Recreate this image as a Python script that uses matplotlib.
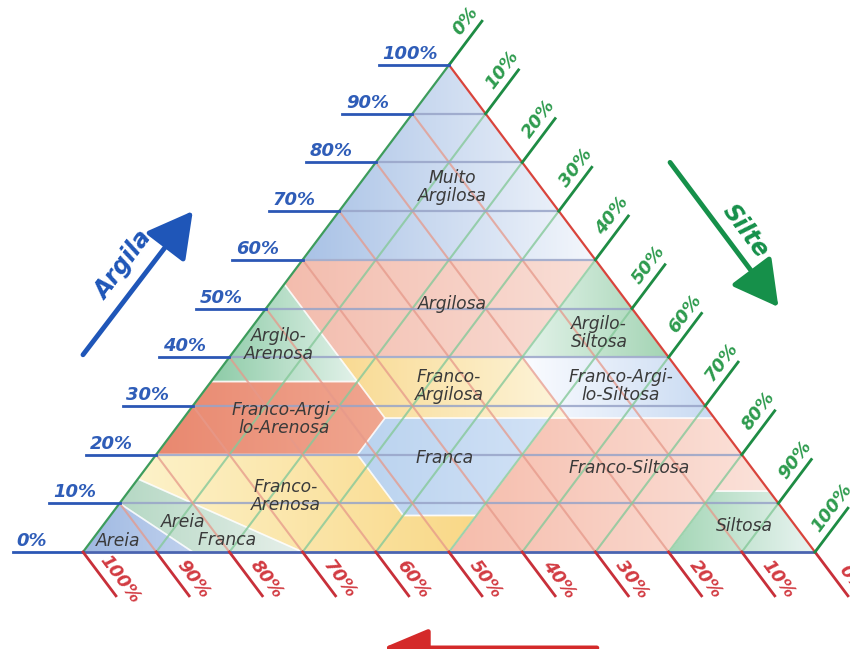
import numpy as np
import matplotlib
matplotlib.use("Agg")
import matplotlib.pyplot as plt
from matplotlib.patches import Polygon
from matplotlib.colors import to_rgb
from matplotlib.transforms import offset_copy

# ---------------- data (percentages: sand, silt, clay) ----------------
region_names = ["Muito Argilosa", "Argilosa", "Argilo-Arenosa", "Argilo-Siltosa",
                "Franco-Argilosa", "Franco-Argilo-Siltosa", "Franco-Argilo-Arenosa",
                "Franca", "Franco-Siltosa", "Siltosa", "Franco-Arenosa",
                "Areia Franca", "Areia"]
region_polys = [
    [(0, 0, 100), (40, 0, 60), (0, 40, 60)],
    [(40, 0, 60), (45, 0, 55), (45, 15, 40), (20, 40, 40), (0, 40, 60)],
    [(45, 0, 55), (65, 0, 35), (45, 20, 35)],
    [(0, 40, 60), (20, 40, 40), (0, 60, 40)],
    [(45, 15, 40), (20, 40, 40), (20, 52.5, 27.5), (45, 27.5, 27.5)],
    [(20, 40, 40), (0, 60, 40), (0, 72.5, 27.5), (20, 52.5, 27.5)],
    [(45, 20, 35), (65, 0, 35), (80, 0, 20), (52.5, 27.5, 20), (45, 27.5, 27.5)],
    [(45, 27.5, 27.5), (52.5, 27.5, 20), (52.5, 40, 7.5), (42.5, 50, 7.5), (22.5, 50, 27.5)],
    [(22.5, 50, 27.5), (0, 72.5, 27.5), (0, 87.5, 12.5), (7.5, 80, 12.5), (20, 80, 0), (50, 50, 0)],
    [(20, 80, 0), (0, 100, 0), (0, 87.5, 12.5), (7.5, 80, 12.5)],
    [(52.5, 40, 7.5), (52.5, 27.5, 20), (80, 0, 20), (85, 0, 15), (70, 30, 0), (50, 50, 0), (42.5, 50, 7.5)],
    [(85, 0, 15), (90, 0, 10), (85, 15, 0), (70, 30, 0)],
    [(100, 0, 0), (90, 0, 10), (85, 15, 0)],
]
region_labels = ["Muito\nArgilosa", "Argilosa", "Argilo-\nArenosa", "Argilo-\nSiltosa",
                 "Franco-\nArgilosa", "Franco-Argi-\nlo-Siltosa", "Franco-Argi-\nlo-Arenosa",
                 "Franca", "Franco-Siltosa", "Siltosa", "Franco-\nArenosa",
                 "Areia        \n        Franca", "Areia"]
# label anchors as (silt, clay)
label_anchor = [(13, 75), (25, 51), (5.5, 42.5), (48, 45), (33, 34), (56.5, 34),
                (13.8, 27.3), (39.8, 19.3), (66, 17.2), (87.7, 5.4), (22, 11.4),
                (14.5, 4.4), (3.6, 2.3)]
grad_left = ["#a9c2e6", "#f3bcad", "#8dcba7", "#e4f3ea", "#f9da92", "#fbfcff",
             "#e9886f", "#bad3ef", "#f6bcab", "#a3d6b5", "#fdf2c9", "#b5d8c4", "#9fb9e2"]
grad_right = ["#f4f7fc", "#f9dfd7", "#e3f2ea", "#a3d4b4", "#fdf5dc", "#c8daf2",
              "#f0a690", "#d2e2f6", "#fbe2da", "#eaf4f2", "#f9d887", "#e8f0eb", "#c0d1ee"]

ticks = list(range(0, 101, 10))
tick_labels = [f"{v}%" for v in ticks]

# ---------------- figure ----------------
fig = plt.figure(figsize=(8.5, 6.49), dpi=100)
ax = fig.add_axes([83 / 850, (649 - 552) / 649, 732 / 850, 487 / 649])
ax.set_autoscale_on(False)
ax.set_xlim(0, 1)
ax.set_ylim(0, 1)
ax.axis("off")


def tern(sand, silt, clay):
    return ((silt + clay / 2) / 100, clay / 100)


# region fills with horizontal gradients
for poly, c1, c2 in zip(region_polys, grad_left, grad_right):
    xy = np.array([tern(*p) for p in poly])
    patch = Polygon(xy, closed=True, facecolor="none", edgecolor="none")
    ax.add_patch(patch)
    xmin, xmax = xy[:, 0].min(), xy[:, 0].max()
    ymin, ymax = xy[:, 1].min(), xy[:, 1].max()
    t = np.linspace(0, 1, 256)
    a, b = np.array(to_rgb(c1)), np.array(to_rgb(c2))
    row = a[None, :] * (1 - t[:, None]) + b[None, :] * t[:, None]
    img = np.stack([row, row])
    im = ax.imshow(img, extent=[xmin, xmax, ymin, ymax], origin="lower",
                   aspect="auto", interpolation="bilinear", zorder=1)
    im.set_clip_path(patch)
    outline = Polygon(xy, closed=True, facecolor="none", edgecolor="white",
                      lw=1.2, alpha=0.6, zorder=1.5)
    ax.add_patch(outline)

# grid lines
for v in ticks[1:-1]:
    p0, p1 = tern(100 - v, 0, v), tern(0, 100 - v, v)
    ax.plot([p0[0], p1[0]], [p0[1], p1[1]], color="#98a4c8", lw=1.6, alpha=0.85, zorder=2)
    p0, p1 = tern(v, 100 - v, 0), tern(v, 0, 100 - v)
    ax.plot([p0[0], p1[0]], [p0[1], p1[1]], color="#e6998a", lw=1.5, alpha=0.75, zorder=2)
    p0, p1 = tern(100 - v, v, 0), tern(0, v, 100 - v)
    ax.plot([p0[0], p1[0]], [p0[1], p1[1]], color="#86c99a", lw=1.5, alpha=0.8, zorder=2)

# triangle edges
A, B, C = tern(100, 0, 0), tern(0, 100, 0), tern(0, 0, 100)
ax.plot([A[0], C[0]], [A[1], C[1]], color="#3d9c5c", lw=1.6, zorder=3, clip_on=False)
ax.plot([B[0], C[0]], [B[1], C[1]], color="#d9443c", lw=1.6, zorder=3, clip_on=False)
ax.plot([A[0], B[0]], [A[1], B[1]], color="#4a64b0", lw=2.0, zorder=3, clip_on=False)

tick_font = dict(fontsize=13, fontstyle="italic", fontweight="bold", zorder=5)
ang_up = np.degrees(np.arctan2(1, 0.5))
ang_dn = np.degrees(np.arctan2(-1, 0.5))
ext = 0.09
perp = 13.0
tr_right = offset_copy(ax.transData, fig=fig, x=-0.799 * perp, y=0.601 * perp, units="dots")
tr_bottom = offset_copy(ax.transData, fig=fig, x=0.799 * perp, y=0.601 * perp, units="dots")
for v, lab in zip(ticks, tick_labels):
    # clay (left)
    p = tern(100 - v, 0, v)
    ax.plot([p[0] - 0.096, p[0]], [p[1], p[1]], color="#2b57b5", lw=2.0, clip_on=False, zorder=4)
    ax.text(p[0] - 0.096 + 0.005, p[1] + 0.004, lab, color="#2f5db8", ha="left", va="bottom", **tick_font)
    # silt (right)
    p = tern(0, v, 100 - v)
    q = (p[0] + 0.5 * ext, p[1] + ext)
    ax.plot([p[0], q[0]], [p[1], q[1]], color="#1e8c44", lw=2.0, clip_on=False, zorder=4)
    ax.text(p[0] + 0.5 * 0.82 * ext, p[1] + 0.82 * ext, lab, color="#2e9b4e", rotation=ang_up,
            transform=tr_right, transform_rotates_text=True, rotation_mode="anchor",
            ha="center", va="center", **tick_font)
    # sand (bottom)
    p = tern(v, 100 - v, 0)
    q = (p[0] + 0.5 * ext, p[1] - ext)
    ax.plot([p[0], q[0]], [p[1], q[1]], color="#c8303a", lw=2.0, clip_on=False, zorder=4)
    ax.text(p[0] + 0.5 * 0.8 * ext, p[1] - 0.8 * ext, lab, color="#d23b42", rotation=ang_dn,
            transform=tr_bottom, transform_rotates_text=True, rotation_mode="anchor",
            ha="center", va="center", **tick_font)

# region labels
for lab, (si, cl) in zip(region_labels, label_anchor):
    x, y = tern(100 - si - cl, si, cl)
    ax.text(x, y, lab, ha="center", va="center", fontsize=12.3, fontstyle="italic",
            color="#3a3a3a", linespacing=1.0, zorder=6)

# axis arrows
ax.annotate("", xy=(0.15, 0.70), xytext=(0.0, 0.405), annotation_clip=False,
            arrowprops=dict(arrowstyle="-|>,head_length=1.0,head_width=0.55", lw=3.5,
                            color="#1f56b8", mutation_scale=28, shrinkA=0, shrinkB=0))
ax.text(0.055, 0.588, "Argila", color="#1f56b8", fontsize=17, fontstyle="italic", fontweight="bold",
        rotation=ang_up, transform_rotates_text=True, rotation_mode="anchor", ha="center", va="center")
ax.annotate("", xy=(0.95, 0.503), xytext=(0.802, 0.80), annotation_clip=False,
            arrowprops=dict(arrowstyle="-|>,head_length=1.0,head_width=0.55", lw=3.5,
                            color="#16904a", mutation_scale=28, shrinkA=0, shrinkB=0))
ax.text(0.905, 0.66, "Silte", color="#16904a", fontsize=17, fontstyle="italic", fontweight="bold",
        rotation=ang_dn, transform_rotates_text=True, rotation_mode="anchor", ha="center", va="center")
ax.annotate("", xy=(0.41, -0.197), xytext=(0.702, -0.197), annotation_clip=False,
            arrowprops=dict(arrowstyle="-|>,head_length=1.0,head_width=0.42", lw=3.5,
                            color="#d42a2a", mutation_scale=28, shrinkA=0, shrinkB=0))

fig.savefig("out.png", dpi=100, facecolor="white")
